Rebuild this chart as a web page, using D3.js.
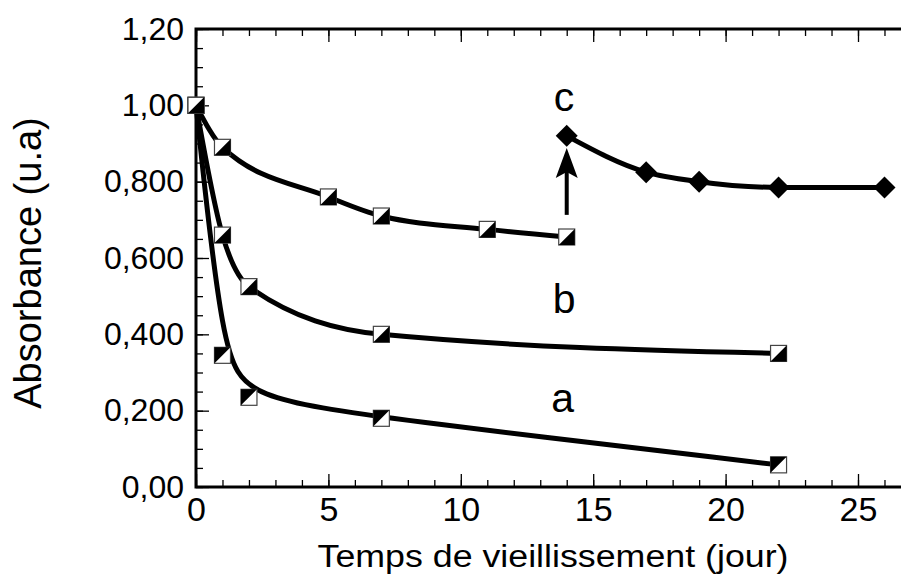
<!DOCTYPE html>
<html>
<head>
<meta charset="utf-8">
<script src="https://cdn.jsdelivr.net/npm/d3@7"></script>
<style>
  body { margin: 0; background: #fff; }
  text { font-family: "Liberation Sans", Arial, sans-serif; fill: #000; }
</style>
</head>
<body>
<div id="chart-area"></div>
<script>
const WIDTH = 901
const HEIGHT = 576

// data
const daysA = [0, 1, 2, 7, 22]
const absA  = [1.0, 0.345, 0.235, 0.18, 0.058]
const daysB = [0, 1, 2, 7, 22]
const absB  = [1.0, 0.66, 0.525, 0.40, 0.35]
const daysC = [0, 1, 5, 7, 11, 14]
const absC  = [1.0, 0.89, 0.76, 0.71, 0.675, 0.655]
const daysC2 = [14, 17, 19, 22, 26]
const absC2  = [0.92, 0.825, 0.80, 0.785, 0.785]

const xTicks = [0, 5, 10, 15, 20, 25]
const yTicks = [0, 0.2, 0.4, 0.6, 0.8, 1.0, 1.2]
const yTickLabels = ["0,00", "0,200", "0,400", "0,600", "0,800", "1,00", "1,20"]
const seriesLabels = ["a", "b", "c"]

const svg = d3.select("#chart-area").append("svg")
  .attr("width", WIDTH)
  .attr("height", HEIGHT)

const x = d3.scaleLinear()
  .domain([0, 27])
  .range([196, 196 + 27 * 26.48])

const y = d3.scaleLinear()
  .domain([0, 1.2])
  .range([487, 29])

const xMinor = d3.range(0, 28, 1)
const yMinor = d3.range(0, 1.2001, 0.05)

// frame
svg.append("rect")
  .attr("x", x(0))
  .attr("y", y(1.2))
  .attr("width", x(27) - x(0))
  .attr("height", y(0) - y(1.2))
  .attr("fill", "none")
  .attr("stroke", "#000")
  .attr("stroke-width", 3)

function styleAxis(sel) {
  sel.select(".domain").remove()
  sel.selectAll(".tick line").attr("stroke", "#000").attr("stroke-width", 1.3)
}

// bottom axis
svg.append("g")
  .attr("transform", `translate(0, ${y(0)})`)
  .call(d3.axisBottom(x).tickValues(xMinor).tickSize(-7).tickFormat(""))
  .call(styleAxis)

svg.append("g")
  .attr("transform", `translate(0, ${y(0)})`)
  .call(d3.axisBottom(x).tickValues(xTicks).tickSize(-13).tickPadding(10).tickFormat(d => d))
  .call(styleAxis)
  .selectAll("text")
    .attr("font-size", "34px")

// top axis
svg.append("g")
  .attr("transform", `translate(0, ${y(1.2)})`)
  .call(d3.axisTop(x).tickValues(xMinor).tickSize(-7).tickFormat(""))
  .call(styleAxis)
svg.append("g")
  .attr("transform", `translate(0, ${y(1.2)})`)
  .call(d3.axisTop(x).tickValues(xTicks).tickSize(-13).tickFormat(""))
  .call(styleAxis)

// left axis
svg.append("g")
  .attr("transform", `translate(${x(0)}, 0)`)
  .call(d3.axisLeft(y).tickValues(yMinor).tickSize(-7).tickFormat(""))
  .call(styleAxis)

svg.append("g")
  .attr("transform", `translate(${x(0)}, 0)`)
  .call(d3.axisLeft(y).tickValues(yTicks).tickSize(-13).tickPadding(12)
    .tickFormat((d, i) => yTickLabels[i]))
  .call(styleAxis)
  .selectAll("text")
    .attr("font-size", "32px")

// axis titles
svg.append("text")
  .attr("x", 553)
  .attr("y", 567)
  .attr("text-anchor", "middle")
  .attr("font-size", "31px")
  .attr("textLength", 471)
  .attr("lengthAdjust", "spacingAndGlyphs")
  .text("Temps de vieillissement (jour)")

svg.append("text")
  .attr("transform", `translate(41, 263) rotate(-90)`)
  .attr("text-anchor", "middle")
  .attr("font-size", "38px")
  .text("Absorbance (u.a)")

// curves: a is a smoothed fit, the others pass through their points
const fitLine = d3.line()
  .x(d => x(d[0]))
  .y(d => y(d[1]))
  .curve(d3.curveBasis)

const line = d3.line()
  .x(d => x(d[0]))
  .y(d => y(d[1]))
  .curve(d3.curveMonotoneX)

const series = [
  { days: daysA, abs: absA, flip: true, gen: fitLine },
  { days: daysB, abs: absB, flip: false, gen: line },
  { days: daysC, abs: absC, flip: false, gen: line }
]

series.forEach(s => {
  svg.append("path")
    .datum(d3.zip(s.days, s.abs))
    .attr("fill", "none")
    .attr("stroke", "#000")
    .attr("stroke-width", 5)
    .attr("stroke-linejoin", "round")
    .attr("d", s.gen)
})

svg.append("path")
  .datum(d3.zip(daysC2, absC2))
  .attr("fill", "none")
  .attr("stroke", "#000")
  .attr("stroke-width", 5)
  .attr("d", line)

// arrow
const arrowX = 14
const arrowFrom = 0.713
const arrowTo = 0.888
svg.append("line")
  .attr("x1", x(arrowX)).attr("x2", x(arrowX))
  .attr("y1", y(arrowFrom)).attr("y2", y(arrowTo) + 20)
  .attr("stroke", "#000")
  .attr("stroke-width", 4)
svg.append("path")
  .attr("d", `M${x(arrowX)},${y(arrowTo)} L${x(arrowX) + 11},${y(arrowTo) + 30} L${x(arrowX)},${y(arrowTo) + 24} L${x(arrowX) - 11},${y(arrowTo) + 30} Z`)
  .attr("fill", "#000")

// half-filled square markers
const S = 16
series.forEach(s => {
  const g = svg.append("g")
  d3.zip(s.days, s.abs).forEach(d => {
    const cx = x(d[0]), cy = y(d[1])
    const m = g.append("g").attr("transform", `translate(${cx - S / 2}, ${cy - S / 2})`)
    m.append("rect")
      .attr("width", S).attr("height", S)
      .attr("fill", "#fff")
      .attr("stroke", "#444")
      .attr("stroke-width", 1.2)
    m.append("path")
      .attr("d", s.flip ? `M0,0 L${S},0 L0,${S} Z` : `M${S},0 L${S},${S} L0,${S} Z`)
      .attr("fill", "#000")
  })
})

// diamond markers
svg.append("g").selectAll("path")
  .data(d3.zip(daysC2, absC2))
  .join("path")
    .attr("transform", d => `translate(${x(d[0])}, ${y(d[1])})`)
    .attr("d", "M0,-11 L11,0 L0,11 L-11,0 Z")
    .attr("fill", "#000")

// series letters
const labelPos = [[13.85, 0.196], [13.9, 0.455], [13.9, 0.985]]
svg.append("g").selectAll("text")
  .data(seriesLabels)
  .join("text")
    .attr("x", (d, i) => x(labelPos[i][0]))
    .attr("y", (d, i) => y(labelPos[i][1]))
    .attr("text-anchor", "middle")
    .attr("font-size", "41px")
    .text(d => d)
</script>
</body>
</html>
